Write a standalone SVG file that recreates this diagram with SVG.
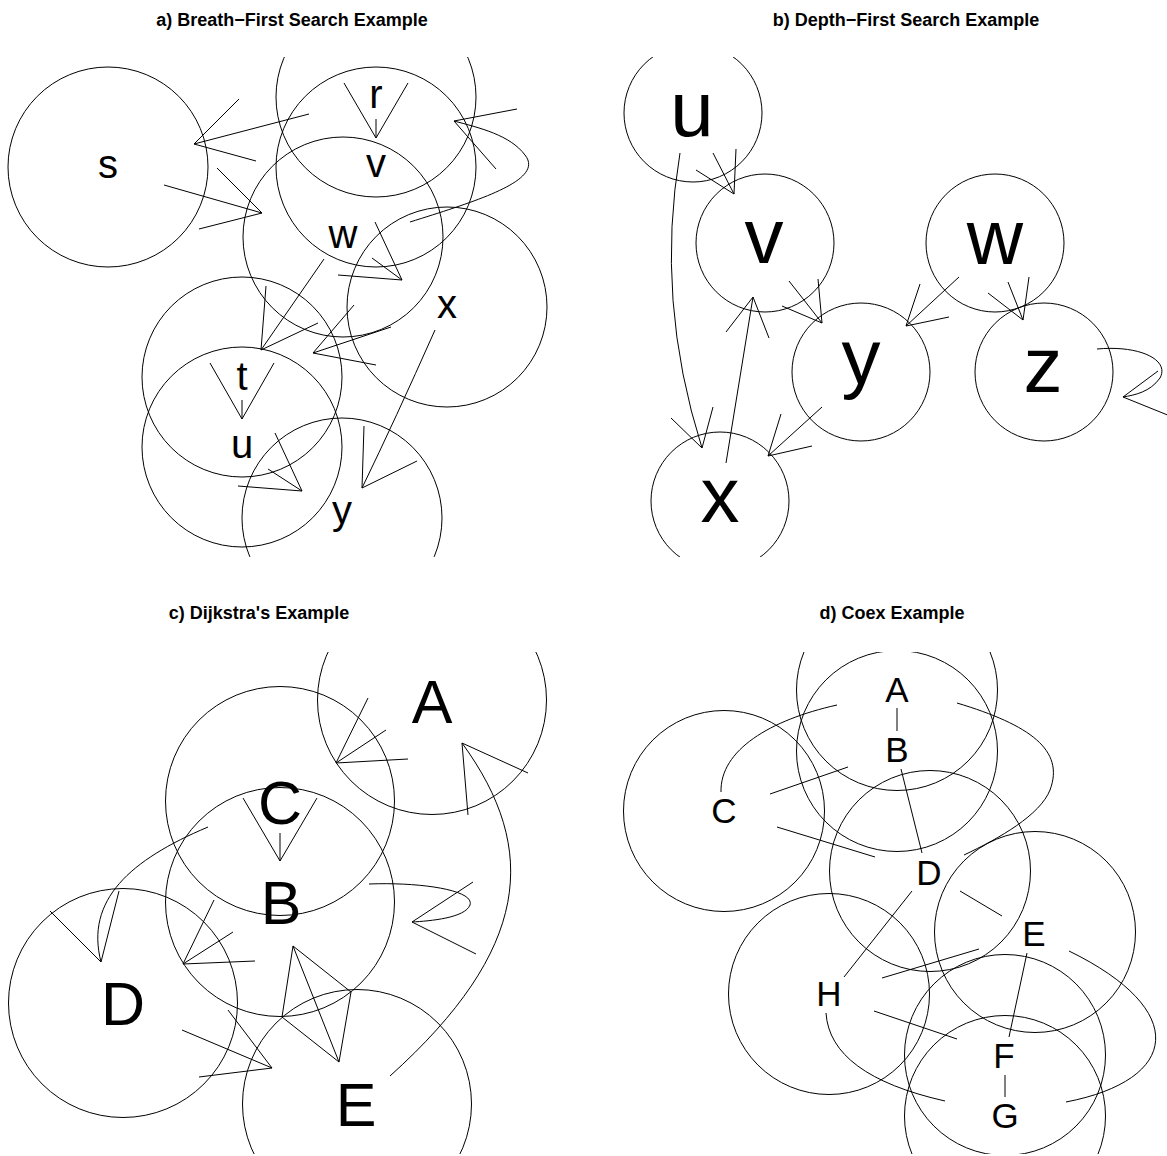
<svg xmlns="http://www.w3.org/2000/svg" width="1167" height="1156" viewBox="0 0 1167 1156">
<style>
.n{fill:none;stroke:#000;stroke-width:1}
.e{fill:none;stroke:#000;stroke-width:1}
.t{font-family:"Liberation Sans",Arial,sans-serif;fill:#000;text-anchor:middle}
.ttl{font-family:"Liberation Sans",Arial,sans-serif;font-weight:bold;font-size:18px;fill:#000;text-anchor:middle}
.la{font-size:40px}.lb{font-size:78px}.lc{font-size:61px}.ld{font-size:35px}
</style>
<defs>
<clipPath id="ca"><rect x="0" y="57" width="583" height="500"/></clipPath>
<clipPath id="cb"><rect x="583" y="57" width="584" height="500"/></clipPath>
<clipPath id="cc"><rect x="0" y="652" width="583" height="502"/></clipPath>
<clipPath id="cd"><rect x="583" y="652" width="584" height="502"/></clipPath>
</defs>
<rect width="1167" height="1156" fill="#fff"/>
<text class="ttl" x="292" y="26">a) Breath−First Search Example</text>
<text class="ttl" x="906" y="26">b) Depth−First Search Example</text>
<text class="ttl" x="259" y="619">c) Dijkstra's Example</text>
<text class="ttl" x="892" y="619">d) Coex Example</text>

<g id="panel-a" clip-path="url(#ca)">
<g id="connectors-a">
<path class="e" d="M309,114 L194,144 M239,99 L194,144 L256,161"/>
<path class="e" d="M164,185 L262,213 M217,168 L262,213 L199,229"/>
<path class="e" d="M376,119 L376,138 M344,83 L376,138 L408,83"/>
<path class="e" d="M410,222 C480,200 545,180 525,155 C510,135 480,128 454,121 M517,109 L454,121 L496,169"/>
<path class="e" d="M375,222 L402,280 M372,258 L402,280 L338,275"/>
<path class="e" d="M324,259 L261,350 M266,286 L261,350 L318,323"/>
<path class="e" d="M391,327 L313,353 M354,305 L313,353 L376,365"/>
<path class="e" d="M242,400 L242,419 M210,363 L242,419 L274,363"/>
<path class="e" d="M268,469 L302,491 M275,433 L302,491 L238,486"/>
<path class="e" d="M435,330 Q395,420 362,488 M364,426 L362,488 L417,461"/>
</g>
<g id="a-s"><circle class="n" cx="108" cy="167" r="100"/><text class="t la" x="108" y="178">s</text></g>
<g id="a-r"><circle class="n" cx="376" cy="97" r="100"/><text class="t la" x="376" y="108">r</text></g>
<g id="a-v"><circle class="n" cx="376" cy="167" r="100"/><text class="t la" x="376" y="177">v</text></g>
<g id="a-w"><circle class="n" cx="343" cy="237" r="100"/><text class="t la" x="343" y="248">w</text></g>
<g id="a-x"><circle class="n" cx="447" cy="307" r="100"/><text class="t la" x="447" y="318">x</text></g>
<g id="a-t"><circle class="n" cx="242" cy="377" r="100"/><text class="t la" x="242" y="390">t</text></g>
<g id="a-u"><circle class="n" cx="242" cy="447" r="100"/><text class="t la" x="242" y="458">u</text></g>
<g id="a-y"><circle class="n" cx="342" cy="518" r="100"/><text class="t la" x="342" y="524">y</text></g>
</g>

<g id="panel-b" clip-path="url(#cb)">
<g id="connectors-b">
<path class="e" d="M713,153 L734,194 M696,170 L734,194 L736,149"/>
<path class="e" d="M680,153 Q655,300 702,448 M671,418 L702,448 L713,407"/>
<path class="e" d="M726,463 L753,297 M726,332 L753,297 L769,338"/>
<path class="e" d="M789,281 L822,323 M818,279 L822,323 L782,306"/>
<path class="e" d="M822,407 L768,456 M781,414 L768,456 L812,446"/>
<path class="e" d="M959,277 L906,326 M920,284 L906,326 L949,317"/>
<path class="e" d="M1008,282 L1023,320 M1029,277 L1023,320 L988,293"/>
<path class="e" d="M1097,349 C1140,345 1170,360 1160,378 C1150,392 1135,395 1123,397 M1158,371 L1123,397 L1170,416"/>
</g>
<g id="b-u"><circle class="n" cx="693" cy="113" r="69"/><text class="t lb" x="692" y="136">u</text></g>
<g id="b-v"><circle class="n" cx="765" cy="243" r="69"/><text class="t lb" x="764" y="263">v</text></g>
<g id="b-w"><circle class="n" cx="995" cy="243" r="69"/><text class="t lb" x="995" y="264">w</text></g>
<g id="b-y"><circle class="n" cx="861" cy="372" r="69"/><text class="t lb" x="861" y="384">y</text></g>
<g id="b-z"><circle class="n" cx="1044" cy="372" r="69"/><text class="t lb" x="1043" y="392">z</text></g>
<g id="b-x"><circle class="n" cx="720" cy="501" r="69"/><text class="t lb" x="720" y="522">x</text></g>
</g>

<g id="panel-c" clip-path="url(#cc)">
<g id="connectors-c">
<path class="e" d="M386,730 L336,763 M368,698 L336,763 L408,759"/>
<path class="e" d="M390,1076 C530,950 540,850 462,743 M468,815 L462,743 L528,773"/>
<path class="e" d="M280,833 L280,861 M243,798 L280,861 L317,798"/>
<path class="e" d="M369,884 C420,882 475,890 470,905 C465,918 430,921 412,922 M473,882 L412,922 L476,954"/>
<path class="e" d="M233,932 L183,964 M214,900 L183,964 L255,961"/>
<path class="e" d="M208,827 C130,860 85,900 101,962 M50,911 L101,962 L119,891"/>
<path class="e" d="M339,1062 L293,946 M282,1017 L293,946 L351,992 M282,1017 L339,1062 L351,992"/>
<path class="e" d="M182,1030 L272,1068 M228,1010 L272,1068 L199,1077"/>
</g>
<g id="c-A"><circle class="n" cx="432" cy="700" r="114.5"/><text class="t lc" x="432" y="723">A</text></g>
<g id="c-C"><circle class="n" cx="280" cy="801" r="114.5"/><text class="t lc" x="280" y="824">C</text></g>
<g id="c-B"><circle class="n" cx="280" cy="902" r="114.5"/><text class="t lc" x="281" y="924">B</text></g>
<g id="c-D"><circle class="n" cx="123" cy="1003" r="114.5"/><text class="t lc" x="123" y="1025">D</text></g>
<g id="c-E"><circle class="n" cx="357" cy="1104" r="114.5"/><text class="t lc" x="356" y="1126">E</text></g>
</g>

<g id="panel-d" clip-path="url(#cd)">
<g id="connectors-d">
<path class="e" d="M897,708 L897,731"/>
<path class="e" d="M901,769 L922,853"/>
<path class="e" d="M912,891 L844,977"/>
<path class="e" d="M1027,953 L1009,1037"/>
<path class="e" d="M1005,1075 L1005,1097"/>
<path class="e" d="M960,891 L1002,916"/>
<path class="e" d="M979,949 L882,978"/>
<path class="e" d="M874,1011 L957,1039"/>
<path class="e" d="M826,1013 Q830,1075 945,1101"/>
<path class="e" d="M1069,951 C1190,1010 1180,1080 1066,1102"/>
<path class="e" d="M721,792 C720,750 770,720 837,705"/>
<path class="e" d="M770,794 L848,767"/>
<path class="e" d="M777,827 L875,857"/>
<path class="e" d="M957,703 C1030,725 1065,750 1050,790 C1040,815 1000,838 964,855"/>
</g>
<g id="d-A"><circle class="n" cx="897" cy="690" r="100.5"/><text class="t ld" x="897" y="702">A</text></g>
<g id="d-B"><circle class="n" cx="897" cy="751" r="100.5"/><text class="t ld" x="897" y="762">B</text></g>
<g id="d-C"><circle class="n" cx="724" cy="811" r="100.5"/><text class="t ld" x="724" y="823">C</text></g>
<g id="d-D"><circle class="n" cx="930" cy="871" r="100.5"/><text class="t ld" x="929" y="885">D</text></g>
<g id="d-E"><circle class="n" cx="1035" cy="932" r="100.5"/><text class="t ld" x="1034" y="946">E</text></g>
<g id="d-H"><circle class="n" cx="829" cy="994" r="100.5"/><text class="t ld" x="829" y="1006">H</text></g>
<g id="d-F"><circle class="n" cx="1005" cy="1055" r="100.5"/><text class="t ld" x="1004" y="1068">F</text></g>
<g id="d-G"><circle class="n" cx="1005" cy="1116" r="100.5"/><text class="t ld" x="1005" y="1128">G</text></g>
</g>
</svg>
